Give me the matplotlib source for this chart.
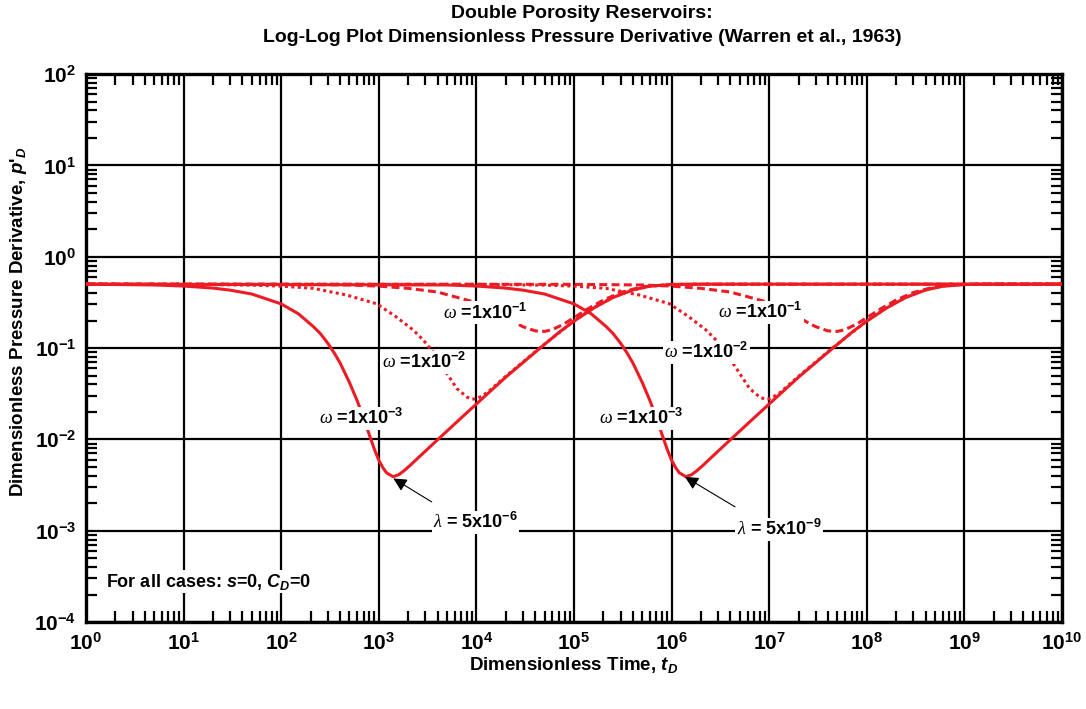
import math
import matplotlib
matplotlib.use('Agg')
import matplotlib.pyplot as plt
from matplotlib.ticker import LogLocator, FixedLocator, FuncFormatter, NullFormatter

plt.rcParams['font.family'] = ['Liberation Sans', 'DejaVu Sans']
plt.rcParams['mathtext.fontset'] = 'custom'
plt.rcParams['mathtext.rm'] = 'Liberation Sans:bold'
plt.rcParams['mathtext.bf'] = 'Liberation Sans:bold'
plt.rcParams['mathtext.it'] = 'Liberation Serif:italic'
plt.rcParams['mathtext.sf'] = 'Liberation Sans:italic:bold'

# values
# lambda = 5e-6 family
t_w3_a = [1, 5, 10, 20, 30, 50, 100, 150, 213, 250, 300, 350, 400, 500, 600, 700, 800, 900,
          1000, 1100, 1200, 1400, 1600, 1800, 2100, 2500, 4000, 7000, 1e4, 2e4, 4.5e4, 7e4,
          1e5, 1.6e5, 2.5e5, 4e5, 6e5, 1e6, 2e6, 1e10]
p_w3 = [0.50, 0.49, 0.477, 0.453, 0.43, 0.39, 0.304, 0.237, 0.172, 0.145, 0.113, 0.088,
        0.069, 0.042, 0.0265, 0.017, 0.0112, 0.0078, 0.0059, 0.0049, 0.0043, 0.0039, 0.0041,
        0.0045, 0.0052, 0.0062, 0.0099, 0.0172, 0.0244, 0.048, 0.10, 0.148, 0.197, 0.275,
        0.357, 0.432, 0.475, 0.496, 0.50, 0.50]

t_w2_a = [1, 10, 50, 100, 213, 469, 950, 1500, 2260, 2860, 3500, 4960, 6300, 8000, 9000,
          1e4, 1.15e4, 1.3e4, 2e4, 4.5e4, 1e5, 1.6e5, 2.5e5, 4e5, 6e5, 1e6, 2e6, 1e10]
p_w2 = [0.50, 0.498, 0.488, 0.476, 0.45, 0.38, 0.305, 0.22, 0.157, 0.122, 0.094, 0.053,
        0.036, 0.029, 0.0276, 0.0277, 0.030, 0.0327, 0.049, 0.101, 0.198, 0.277, 0.359,
        0.434, 0.476, 0.497, 0.50, 0.50]

t_w1_a = [1, 100, 500, 1000, 2000, 4000, 1.0e4, 2.0e4, 2.4e4, 3.0e4, 4.0e4, 5.0e4, 6.0e4,
          7.8e4, 1.0e5, 1.4e5, 2.0e5, 3.0e5, 5.0e5, 1.0e6, 2.0e6, 1e10]
p_w1 = [0.50, 0.498, 0.49, 0.476, 0.45, 0.41, 0.314, 0.217, 0.194, 0.171, 0.154, 0.152,
        0.159, 0.182, 0.215, 0.27, 0.335, 0.405, 0.469, 0.497, 0.50, 0.50]

# lambda = 5e-9 family
t_w3_b = [1, 5e3, 1e4, 2e4, 3e4, 5e4, 1e5, 1.5e5, 2.13e5, 2.5e5, 3e5, 3.5e5, 4e5, 5e5, 6e5,
          7e5, 8e5, 9e5, 1e6, 1.1e6, 1.2e6, 1.4e6, 1.6e6, 1.8e6, 2.1e6, 2.5e6, 4e6, 7e6,
          1e7, 2e7, 4.5e7, 7e7, 1e8, 1.6e8, 2.5e8, 4e8, 6e8, 1e9, 2e9, 1e10]
t_w2_b = [1, 1e4, 5e4, 1e5, 2.13e5, 4.69e5, 9.5e5, 1.5e6, 2.26e6, 2.86e6, 3.5e6, 4.96e6,
          6.3e6, 8e6, 9e6, 1e7, 1.15e7, 1.3e7, 2e7, 4.5e7, 1e8, 1.6e8, 2.5e8, 4e8, 6e8,
          1e9, 2e9, 1e10]
t_w1_b = [1, 1e5, 5e5, 1e6, 2e6, 4e6, 1.0e7, 2.0e7, 2.4e7, 3.0e7, 4.0e7, 5.0e7, 6.0e7,
          7.8e7, 1.0e8, 1.4e8, 2.0e8, 3.0e8, 5.0e8, 1.0e9, 2.0e9, 1e10]

omega_labels = ['1', '2', '3']
red = '#ed1c24'

fig = plt.figure(figsize=(10.86, 7.09), dpi=100)
ax = fig.add_axes([0.0792, 0.1227, 0.8987, 0.7729])
ax.set_xscale('log')
ax.set_yscale('log')
ax.set_xlim(1, 1e10)
ax.set_ylim(1e-4, 1e2)

for t_a, t_b, p, ls in [(t_w3_a, t_w3_b, p_w3, '-'),
                        (t_w2_a, t_w2_b, p_w2, (0, (1, 1.1))),
                        (t_w1_a, t_w1_b, p_w1, (0, (2.6, 1.4)))]:
    ax.plot(t_a, p, color=red, lw=2.2, ls=ls, zorder=3, solid_joinstyle='round')
    ax.plot(t_b, p, color=red, lw=2.2, ls=ls, zorder=3, solid_joinstyle='round')

ax.grid(True, which='major', color='black', lw=1.6, zorder=1)
ax.set_axisbelow(True)
for s in ax.spines.values():
    s.set_linewidth(2.4)

ax.xaxis.set_major_locator(FixedLocator([10.0 ** k for k in range(0, 11)]))
ax.yaxis.set_major_locator(FixedLocator([10.0 ** k for k in range(-4, 3)]))
ax.xaxis.set_minor_locator(LogLocator(base=10, subs=range(2, 10), numticks=20))
ax.yaxis.set_minor_locator(LogLocator(base=10, subs=range(2, 10), numticks=20))
ax.xaxis.set_minor_formatter(NullFormatter())
ax.yaxis.set_minor_formatter(NullFormatter())
fmt = FuncFormatter(lambda v, pos: r'$\mathbf{10^{%d}}$' % round(math.log10(v)))
ax.xaxis.set_major_formatter(fmt)
ax.yaxis.set_major_formatter(fmt)
ax.tick_params(which='both', direction='in', top=True, right=True, labelsize=15)
ax.tick_params(which='major', length=0, pad=7)
ax.tick_params(which='minor', length=8, width=1.6)

box = dict(facecolor='white', edgecolor='none', pad=1.0)
txt = dict(fontsize=13, fontweight='bold', ha='left', va='baseline', bbox=box, zorder=5)

# omega labels (x of left edge, baseline)
om_x_a = [10 ** 3.655, 10 ** 3.030, 10 ** 2.390]
om_y_a = [10 ** -0.678, 10 ** -1.220, 10 ** -1.834]
om_x_b = [10 ** 6.472, 10 ** 5.922, 10 ** 5.259]
om_y_b = [10 ** -0.672, 10 ** -1.111, 10 ** -1.834]
for k, e in enumerate(omega_labels):
    lab = r'$\omega$ =1x$\mathrm{10^{-%s}}$' % e
    ax.text(om_x_a[k], om_y_a[k], lab, **txt)
    ax.text(om_x_b[k], om_y_b[k], lab, **txt)

ax.text(10 ** 3.555, 10 ** -2.976, r'$\lambda$ = 5x$\mathrm{10^{-6}}$', **txt)
ax.text(10 ** 6.667, 10 ** -3.049, r'$\lambda$ = 5x$\mathrm{10^{-9}}$', **txt)
arrow = dict(arrowstyle='-|>', color='black', lw=0.8, mutation_scale=20, shrinkA=0, shrinkB=0)
ax.annotate('', xy=(10 ** 3.149, 10 ** -2.428), xytext=(10 ** 3.542, 10 ** -2.685),
            arrowprops=arrow, zorder=6)
ax.annotate('', xy=(10 ** 6.137, 10 ** -2.411), xytext=(10 ** 6.650, 10 ** -2.739),
            arrowprops=arrow, zorder=6)

ax.text(10 ** 0.205, 10 ** -3.616, r'For all cases: $\mathsf{s}$=0, $\mathsf{C_D}$=0', **txt)

fig.text(574 / 1086, 1 - 665 / 709, r'Dimensionless Time, $\mathsf{t_D}$',
         fontsize=13.5, fontweight='bold', ha='center', va='center')
fig.text(19 / 1086, 1 - 322 / 709,
         r"Dimensionless Pressure Derivative, $\mathsf{p}$'$\mathsf{_D}$",
         fontsize=13.5, fontweight='bold', ha='center', va='center', rotation=90)

fig.text(582 / 1086, 1 - 14 / 709, 'Double Porosity Reservoirs:',
         fontsize=14, fontweight='bold', ha='center', va='center')
fig.text(582 / 1086, 1 - 37 / 709,
         'Log-Log Plot Dimensionless Pressure Derivative (Warren et al., 1963)',
         fontsize=14, fontweight='bold', ha='center', va='center')

fig.savefig('out.png', dpi=100)
